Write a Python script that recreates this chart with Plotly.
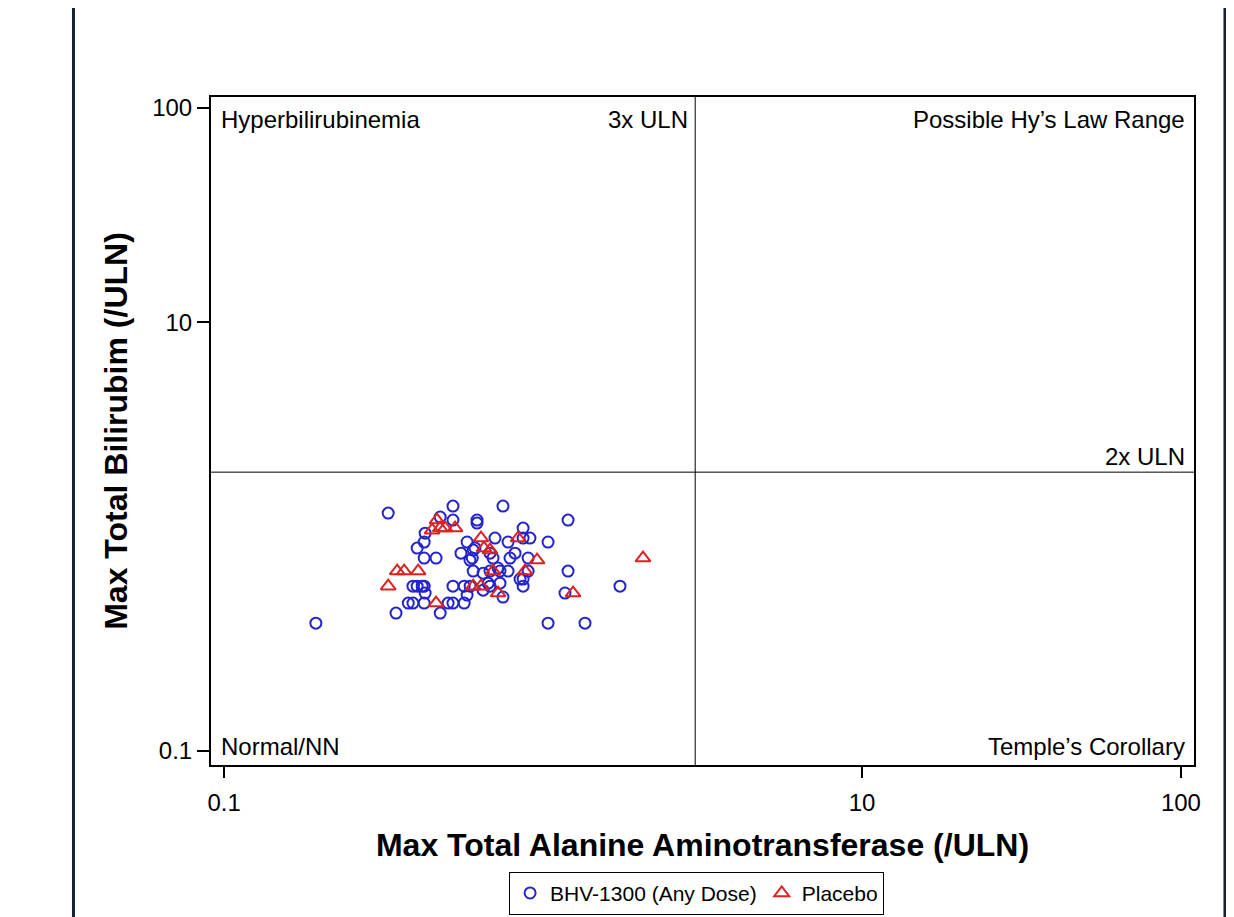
import plotly.graph_objects as go

# BHV-1300 (Any Dose): max ALT (/ULN) and max total bilirubin (/ULN)
bhv_alt = [0.194, 0.327, 0.346, 0.522, 0.476, 0.522, 0.621, 0.621, 0.427, 0.424,
           0.403, 0.424, 0.462, 0.553, 0.578, 0.604, 0.600, 0.604, 0.391, 0.403,
           0.418, 0.424, 0.522, 0.566, 0.591, 0.391, 0.424, 0.522, 0.566, 0.427,
           0.476, 0.578, 0.749, 1.198, 0.866, 0.707, 0.777, 0.910, 1.037, 0.817,
           0.788, 0.898, 0.697, 0.682, 0.777, 0.722, 0.898, 1.198, 0.682, 0.866,
           0.866, 0.733, 1.172, 1.743, 1.037, 1.354, 0.649, 0.612, 0.673, 0.749,
           0.866, 0.649, 0.504, 0.590, 0.733, 0.847, 0.682, 0.378]
bhv_bili = [0.395, 1.288, 0.440, 1.389, 1.234, 1.195, 1.195, 1.157, 1.039, 0.944,
            0.885, 0.795, 0.795, 0.838, 0.944, 0.866, 0.795, 0.691, 0.588, 0.588,
            0.588, 0.588, 0.588, 0.588, 0.588, 0.490, 0.490, 0.490, 0.490, 0.546,
            0.440, 0.534, 1.389, 1.195, 1.097, 0.985, 0.944, 0.985, 0.944, 0.838,
            0.795, 0.795, 0.795, 0.691, 0.691, 0.714, 0.691, 0.691, 0.588, 0.634,
            0.588, 0.607, 0.546, 0.588, 0.395, 0.395, 0.563, 0.885, 0.607, 0.523,
            0.985, 0.676, 0.490, 0.778, 0.691, 0.634, 0.838, 0.490]

# Placebo
pbo_alt = [0.327, 0.349, 0.367, 0.406, 0.449, 0.465, 0.476, 0.493, 0.530, 0.462,
           0.604, 0.639, 0.639, 0.653, 0.682, 0.697, 0.723, 0.835, 0.878, 0.958,
           1.242, 2.058]
pbo_bili = [0.588, 0.691, 0.691, 0.691, 1.073, 1.195, 1.097, 1.097, 1.097, 0.490,
            0.588, 0.588, 0.985, 0.885, 0.866, 0.691, 0.546, 0.985, 0.691, 0.778,
            0.546, 0.795]

x_ticks = [0.1, 10, 100]
x_tick_labels = ["0.1", "10", "100"]
y_ticks = [0.1, 10, 100]
y_tick_labels = ["0.1", "10", "100"]

alt_ref = 3   # 3x ULN
bili_ref = 2  # 2x ULN

FONT = "Liberation Sans, Arial, sans-serif"
BLUE = "#2424cc"
RED = "#dd2222"

fig = go.Figure()
fig.add_trace(go.Scatter(
    x=bhv_alt, y=bhv_bili, mode="markers", name="BHV-1300 (Any Dose)",
    marker=dict(symbol="circle-open", size=11, color=BLUE, line=dict(width=2, color=BLUE)),
))
fig.add_trace(go.Scatter(
    x=pbo_alt, y=pbo_bili, mode="markers", name="Placebo",
    marker=dict(symbol="triangle-up-open", size=13, color=RED, line=dict(width=2, color=RED)),
))

# reference lines
fig.add_shape(type="line", xref="x", yref="paper", x0=alt_ref, x1=alt_ref, y0=0, y1=1,
              line=dict(color="black", width=1))
fig.add_shape(type="line", xref="paper", yref="y", x0=0, x1=1, y0=bili_ref, y1=bili_ref,
              line=dict(color="black", width=1))

# outer frame lines
for xp in [-0.1399, 1.0315]:
    fig.add_shape(type="line", xref="paper", yref="paper", x0=xp, x1=xp, y0=-0.26, y1=1.2,
                  line=dict(color="#16203a", width=3))

ann_font = dict(family=FONT, size=24, color="black")
fig.add_annotation(text="Hyperbilirubinemia", xref="paper", yref="paper", x=0.008, y=0.99,
                   xanchor="left", yanchor="top", showarrow=False, font=ann_font)
fig.add_annotation(text="3x ULN", xref="paper", yref="paper", x=0.487, y=0.99,
                   xanchor="right", yanchor="top", showarrow=False, font=ann_font)
fig.add_annotation(text="Possible Hy’s Law Range", xref="paper", yref="paper", x=0.993, y=0.99,
                   xanchor="right", yanchor="top", showarrow=False, font=ann_font)
fig.add_annotation(text="2x ULN", xref="paper", yref="y", x=0.993, y=0.301,
                   xanchor="right", yanchor="bottom", showarrow=False, font=ann_font)
fig.add_annotation(text="Normal/NN", xref="paper", yref="paper", x=0.008, y=0.005,
                   xanchor="left", yanchor="bottom", showarrow=False, font=ann_font)
fig.add_annotation(text="Temple’s Corollary", xref="paper", yref="paper", x=0.993, y=0.005,
                   xanchor="right", yanchor="bottom", showarrow=False, font=ann_font)

fig.update_layout(
    width=1226, height=917,
    margin=dict(l=203, r=40, t=89, b=160),
    paper_bgcolor="white", plot_bgcolor="white",
    font=dict(family=FONT, color="black"),
    showlegend=True,
    legend=dict(orientation="h", x=0.494, xanchor="center",
                yref="container", y=0.058, yanchor="top",
                bordercolor="black", borderwidth=1, font=dict(size=21, family=FONT),
                itemwidth=30, tracegroupgap=0),
    xaxis=dict(type="log", range=[-1.041, 2.041], tickvals=x_ticks, ticktext=x_tick_labels,
               showgrid=False, zeroline=False, showline=True, linecolor="black", linewidth=2,
               mirror=True, ticks="outside", ticklen=11, tickwidth=2, tickcolor="black",
               ticklabelstandoff=4,
               tickfont=dict(size=24, family=FONT),
               title=dict(text="<b>Max Total Alanine Aminotransferase (/ULN)</b>",
                          font=dict(size=32, family=FONT), standoff=19)),
    yaxis=dict(type="log", range=[-1.065, 2.051], tickvals=y_ticks, ticktext=y_tick_labels,
               showgrid=False, zeroline=False, showline=True, linecolor="black", linewidth=2,
               mirror=True, ticks="outside", ticklen=12, tickwidth=2, tickcolor="black",
               tickfont=dict(size=24, family=FONT),
               title=dict(text="<b>Max Total Bilirubim (/ULN)</b>",
                          font=dict(size=32, family=FONT), standoff=15)),
)

fig.write_html("out.html")
